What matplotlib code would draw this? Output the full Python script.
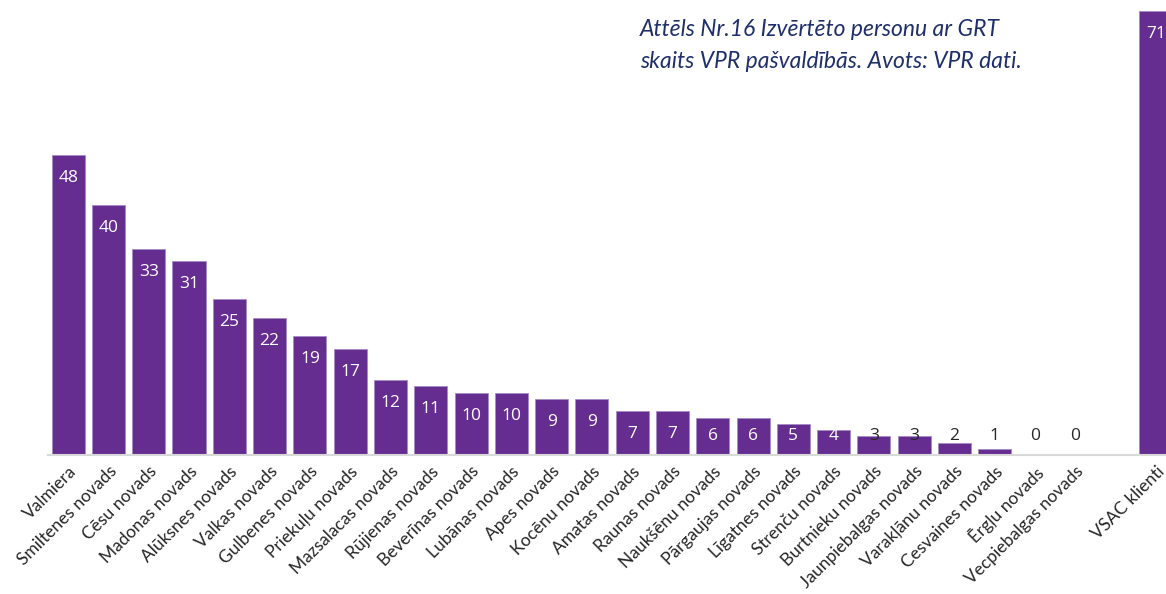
import matplotlib
matplotlib.use("Agg")
import matplotlib.pyplot as plt
import numpy as np

# dati no attēla
novadi = ["Valmiera", "Smiltenes novads", "Cēsu novads", "Madonas novads", "Alūksnes novads",
          "Valkas novads", "Gulbenes novads", "Priekuļu novads", "Mazsalacas novads",
          "Rūjienas novads", "Beverīnas novads", "Lubānas novads", "Apes novads",
          "Kocēnu novads", "Amatas novads", "Raunas novads", "Naukšēnu novads",
          "Pārgaujas novads", "Līgatnes novads", "Strenču novads", "Burtnieku novads",
          "Jaunpiebalgas novads", "Varakļānu novads", "Cesvaines novads", "Ērgļu novads",
          "Vecpiebalgas novads", "", "VSAC klienti"]
skaits = [48, 40, 33, 31, 25, 22, 19, 17, 12, 11, 10, 10, 9, 9, 7, 7, 6, 6, 5, 4,
          3, 3, 2, 1, 0, 0, None, 71]

purple = "#662D91"

fig = plt.figure(figsize=(11.66, 5.94), dpi=100)
ax = fig.add_axes([48 / 1166, 139 / 594, 1118 / 1166, 455 / 594])

x = np.arange(len(novadi))
vals = [v if v is not None else 0 for v in skaits]
ax.bar(x, vals, width=0.82, color=purple, edgecolor="#A58CC6", linewidth=0.6, zorder=2)

for xi, v in zip(x, skaits):
    if v is None:
        continue
    y = max(v - 3.7, 3.0)
    col = "white" if v >= 4 else "#262626"
    ax.text(xi, y, str(v), ha="center", va="center", color=col, fontsize=12.5,
            family="Open Sans", zorder=3)

ax.set_xlim(-0.5, 27.25)
ax.set_ylim(0, 72.8)
ax.set_xticks(x)
ax.set_xticklabels(novadi, rotation=45, ha="right", rotation_mode="anchor",
                   fontsize=12.5, family="Lato", color="#262626")
ax.tick_params(axis="x", length=0, pad=6)
ax.set_yticks([])
for s in ["top", "left", "right"]:
    ax.spines[s].set_visible(False)
ax.spines["bottom"].set_color("#D9D9D9")
ax.spines["bottom"].set_linewidth(1.5)

fig.text(640 / 1166, 1 - 30 / 594, "Attēls Nr.16 Izvērtēto personu ar GRT",
         fontsize=16.5, style="italic", family="Lato", color="#1F2F6B", va="center")
fig.text(640 / 1166, 1 - 62 / 594, "skaits VPR pašvaldībās. Avots: VPR dati.",
         fontsize=16.5, style="italic", family="Lato", color="#1F2F6B", va="center")

fig.savefig("out.png", dpi=100)
